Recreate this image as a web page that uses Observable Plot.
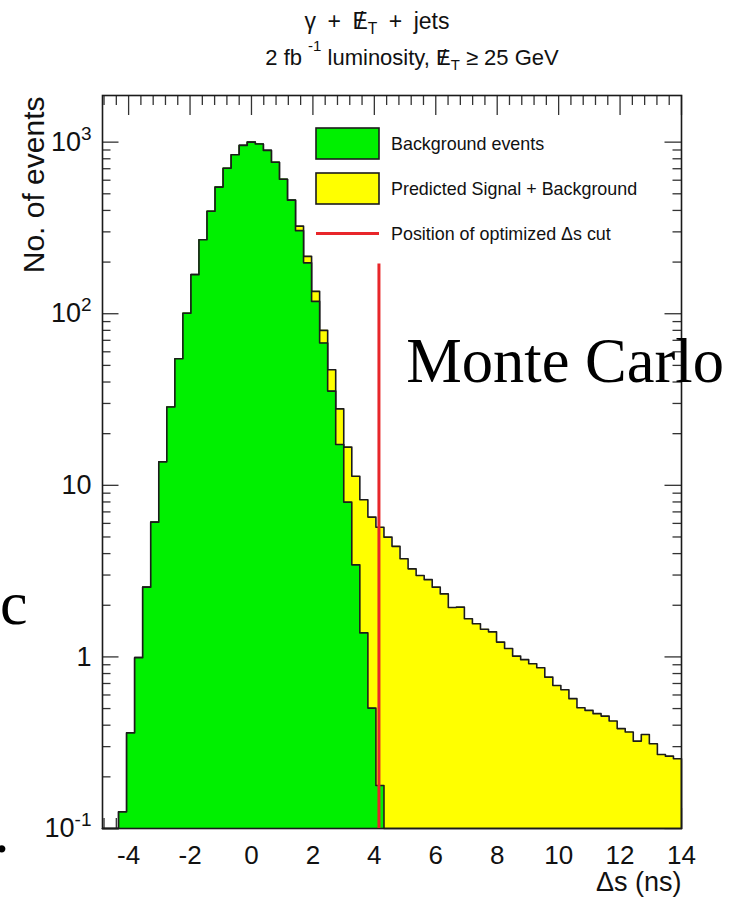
<!DOCTYPE html>
<html>
<head>
<meta charset="utf-8">
<script src="https://cdn.jsdelivr.net/npm/d3@7"></script>
<script src="https://cdn.jsdelivr.net/npm/@observablehq/plot@0.6"></script>
<style>
  html, body { margin: 0; padding: 0; background: #fff; }
  #chart svg { display: block; }
</style>
</head>
<body>
<div id="chart"></div>
<script>
// Δs histogram binning (ns)
const binLow = -4.85;
const binHigh = 14;
const binCount = 72;

// Background events per bin
const background = [
  0, 0, 0.125, 0.361, 0.99, 2.55, 6.1, 13.7, 28.6, 54.7,
  100.7, 169, 270, 396, 547, 705, 845, 957, 1000, 976,
  895, 764, 608, 459, 305, 198, 118, 67.5, 35.4, 17.3,
  7.98, 3.44, 1.38, 0.503, 0.178, 0, 0, 0, 0, 0,
  0, 0, 0, 0, 0, 0, 0, 0, 0, 0,
  0, 0, 0, 0, 0, 0, 0, 0, 0, 0,
  0, 0, 0, 0, 0, 0, 0, 0, 0, 0,
  0, 0
];

// Predicted signal + background per bin
const signalPlusBackground = [
  0, 0, 0.125, 0.361, 0.99, 2.55, 6.1, 13.7, 28.6, 54.7,
  100.7, 169, 270, 396, 547, 705, 845, 957, 1000, 976,
  895, 764, 608, 459, 324, 216, 135, 80, 47.2, 27.9,
  16.7, 11.3, 8.24, 6.53, 5.7, 4.99, 4.41, 3.73, 3.26, 2.98,
  2.82, 2.55, 2.33, 1.94, 1.95, 1.67, 1.56, 1.45, 1.40, 1.22,
  1.12, 1.01, 0.964, 0.913, 0.865, 0.762, 0.682, 0.644, 0.571, 0.506,
  0.488, 0.467, 0.452, 0.423, 0.382, 0.365, 0.323, 0.353, 0.312, 0.270,
  0.264, 0.255
];

// Optimized Δs cut
const cutPosition = 4.15;
const cutTop = 195;

// Axis ticks
const xTickValues = [-4, -2, 0, 2, 4, 6, 8, 10, 12, 14];
const xTickLabels = ["-4", "-2", "0", "2", "4", "6", "8", "10", "12", "14"];
const yTickValues = [0.1, 1, 10, 100, 1000];
const yTickLabels = ["10^-1", "1", "10", "10^2", "10^3"];

// Legend entries
const legendLabels = ["Background events", "Predicted Signal + Background", "Position of optimized Δs cut"];

const yFloor = 0.1;
const yCeil = 1870;
const colors = { background: "#00f000", total: "#ffff00", cut: "#e8262a", outline: "#1c1c1c" };

const W = 737, H = 897;
const margin = { top: 95, right: 56, bottom: 69, left: 102 };
const frameW = W - margin.left - margin.right;
const frameH = H - margin.top - margin.bottom;

const edges = d3.range(binCount + 1).map(i => binLow + i * (binHigh - binLow) / binCount);

// Step vertices for a filled histogram
function stepPoints(counts) {
  const pts = counts.map((v, i) => ({ x: edges[i], y: Math.max(v, yFloor) }));
  pts.push({ x: edges[binCount], y: Math.max(counts[binCount - 1], yFloor) });
  return pts;
}
// Closed outline, dropping to the axis floor at both ends
function outlinePoints(counts) {
  return [{ x: edges[0], y: yFloor }, ...stepPoints(counts), { x: edges[binCount], y: yFloor }];
}

// Minor ticks
const xMinor = d3.range(-12, 36).map(i => +(i * 0.4).toFixed(2)).filter(v => Math.abs(v / 2 - Math.round(v / 2)) > 0.01);
const yMinor = [];
for (const dec of [0.1, 1, 10, 100, 1000]) {
  for (let m = 2; m <= 9; m++) { const v = +(m * dec).toPrecision(3); if (v < yCeil) yMinor.push(v); }
}

const tickStyle = { stroke: "#333", strokeWidth: 1.3 };
const yMajorLen = 16.5, yMinorLen = 8.5, xMajorLen = 20, xMinorLen = 10;
const serif = "'Liberation Serif', 'Times New Roman', serif";

const plot = Plot.plot({
  width: W,
  height: H,
  marginTop: margin.top,
  marginRight: margin.right,
  marginBottom: margin.bottom,
  marginLeft: margin.left,
  style: { fontFamily: "'Liberation Sans', Arial, Helvetica, sans-serif", background: "#fff", color: "#111" },
  x: { domain: [binLow, binHigh] },
  y: { type: "log", domain: [yFloor, yCeil] },
  marks: [
    // inward ticks on all four sides
    Plot.tickY(yTickValues, { y: d => d, insetRight: frameW - yMajorLen, ...tickStyle }),
    Plot.tickY(yMinor, { y: d => d, insetRight: frameW - yMinorLen, ...tickStyle }),
    Plot.tickY(yTickValues, { y: d => d, insetLeft: frameW - yMajorLen, ...tickStyle }),
    Plot.tickY(yMinor, { y: d => d, insetLeft: frameW - yMinorLen, ...tickStyle }),
    Plot.tickX(xTickValues, { x: d => d, insetBottom: frameH - xMajorLen, ...tickStyle }),
    Plot.tickX(xMinor, { x: d => d, insetBottom: frameH - xMinorLen, ...tickStyle }),
    Plot.tickX(xTickValues, { x: d => d, insetTop: frameH - xMajorLen, ...tickStyle }),
    Plot.tickX(xMinor, { x: d => d, insetTop: frameH - xMinorLen, ...tickStyle }),

    // predicted signal + background
    Plot.areaY(stepPoints(signalPlusBackground), { x: "x", y1: yFloor, y2: "y", curve: "step-after", fill: colors.total }),
    Plot.line(outlinePoints(signalPlusBackground), { x: "x", y: "y", curve: "step-after", stroke: colors.outline, strokeWidth: 1.6 }),
    // background only
    Plot.areaY(stepPoints(background), { x: "x", y1: yFloor, y2: "y", curve: "step-after", fill: colors.background }),
    Plot.line(outlinePoints(background), { x: "x", y: "y", curve: "step-after", stroke: colors.outline, strokeWidth: 1.6 }),

    Plot.frame({ stroke: "#1a1a1a", strokeWidth: 1.6 }),

    // optimized cut
    Plot.ruleX([cutPosition], { y1: yFloor, y2: cutTop, stroke: colors.cut, strokeWidth: 3 }),

    // axis labels
    Plot.axisX(xTickValues, { tickSize: 0, tickPadding: 17, fontSize: 26, label: null,
      tickFormat: d => xTickLabels[xTickValues.indexOf(d)] }),
    Plot.axisY(yTickValues, { tickSize: 0, tickPadding: 11, fontSize: 27, label: null,
      tickFormat: d => yTickLabels[yTickValues.indexOf(d)] }),
    Plot.text(["Δs (ns)"], { frameAnchor: "bottom-right", text: d => d, textAnchor: "end", lineAnchor: "middle",
      dy: 54, fontSize: 27 }),
    Plot.text(["No. of events"], { frameAnchor: "top-left", text: d => d, textAnchor: "end", lineAnchor: "middle",
      rotate: -90, dx: -68, dy: 1, fontSize: 30 }),

    // annotations
    Plot.text(["Monte Carlo"], { x: 5.04, y: 52, text: d => d, textAnchor: "start", lineAnchor: "middle",
      fontSize: 62.5, fontFamily: serif, fill: "#000" }),
    Plot.text(["sec"], { frameAnchor: "bottom-left", text: d => d, textAnchor: "end", lineAnchor: "middle",
      dx: -75, dy: -224, fontSize: 62, fontFamily: serif, fill: "#000" }),
    Plot.text(["."], { frameAnchor: "bottom-left", text: d => d, textAnchor: "end", lineAnchor: "middle",
      dx: -93, dy: 3.5, fontSize: 62, fontFamily: serif, fill: "#000" })
  ]
});

const svg = d3.select(plot);

// exponents on the log-axis labels
svg.selectAll('g[aria-label="y-axis tick label"] text').each(function () {
  const t = this.textContent;
  if (t.includes("^")) {
    const [base, exp] = t.split("^");
    this.textContent = base;
    d3.select(this).append("tspan").attr("dy", -11).attr("font-size", 19).text(exp);
  }
});

// two-line title with missing-E_T symbols
function slashedET(text, size) {
  text.append("tspan").text("E");
  text.append("tspan").attr("dx", (-0.47 * size).toFixed(1)).text("/");
  text.append("tspan").attr("dx", (0.19 * size).toFixed(1)).attr("dy", 5).attr("font-size", size * 0.68).text("T");
}
const t1 = svg.append("text").attr("x", 377).attr("y", 29).attr("text-anchor", "middle")
  .attr("font-size", 23).attr("fill", "#111").style("white-space", "pre");
t1.append("tspan").text("γ\u2002+\u2002");
slashedET(t1, 23);
t1.append("tspan").attr("dy", -5).text("\u2002+\u2002jets");

const t2 = svg.append("text").attr("x", 412).attr("y", 65).attr("text-anchor", "middle")
  .attr("font-size", 22).attr("fill", "#111").style("white-space", "pre");
t2.append("tspan").text("2 fb ");
t2.append("tspan").attr("dy", -14).attr("font-size", 15).text("-1");
t2.append("tspan").attr("dy", 14).text(" luminosity, ");
slashedET(t2, 22);
t2.append("tspan").attr("dy", -5).text(" ≥ 25 GeV");

// legend
const legend = svg.append("g").attr("font-size", 17.9).attr("fill", "#111").attr("text-anchor", "start");
const lgX = 316, lgW = 63, lgRows = [143.5, 188.5, 233.5], lgH = 31;
legend.append("rect").attr("x", lgX).attr("y", lgRows[0] - lgH / 2).attr("width", lgW).attr("height", lgH)
  .attr("fill", colors.background).attr("stroke", colors.outline).attr("stroke-width", 1.6);
legend.append("rect").attr("x", lgX).attr("y", lgRows[1] - lgH / 2).attr("width", lgW).attr("height", lgH)
  .attr("fill", colors.total).attr("stroke", colors.outline).attr("stroke-width", 1.6);
legend.append("line").attr("x1", lgX).attr("x2", lgX + lgW).attr("y1", lgRows[2]).attr("y2", lgRows[2])
  .attr("stroke", colors.cut).attr("stroke-width", 3);
legendLabels.forEach((label, i) => {
  legend.append("text").attr("x", 391).attr("y", lgRows[i]).attr("dy", "0.35em").attr("text-anchor", "start").text(label);
});

document.getElementById("chart").appendChild(plot);
</script>
</body>
</html>
